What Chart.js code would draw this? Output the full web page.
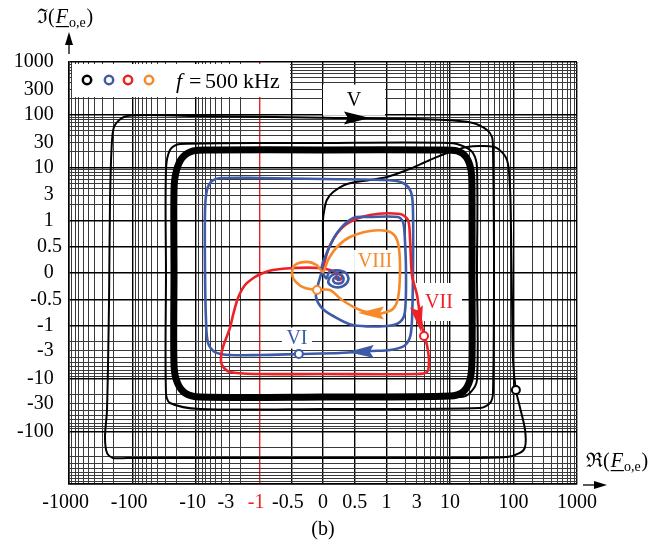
<!DOCTYPE html>
<html>
<head>
<meta charset="utf-8">
<script src="https://cdn.jsdelivr.net/npm/chart.js@4.4.1/dist/chart.umd.min.js"></script>
<style>
  html, body { margin: 0; padding: 0; background: #fff; }
</style>
</head>
<body>
<canvas id="c" width="669" height="544"></canvas>
<script>
// tick labels and grid positions (real values)
const xTickLabels = [-1000, -100, -10, -3, -1, -0.5, 0, 0.5, 1, 3, 10, 100, 1000];
const yTickLabels = [1000, 300, 100, 30, 10, 3, 1, 0.5, 0, -0.5, -1, -3, -10, -30, -100];
const gridValues = [
  -1000, -900, -800, -700, -600, -500, -400, -300, -200,
  -100, -90, -80, -70, -60, -50, -40, -30, -20,
  -10, -9, -8, -7, -6, -5, -4, -3, -2,
  -1, -0.5, 0, 0.5, 1,
  2, 3, 4, 5, 6, 7, 8, 9, 10,
  20, 30, 40, 50, 60, 70, 80, 90, 100,
  200, 300, 400, 500, 600, 700, 800, 900, 1000
];
const majorGrid = [-1000, -100, -10, -1, -0.5, 0, 0.5, 1, 10, 100, 1000];

// trajectory V (black)
const blackX = [0, 0, 0, 0.02, 0.06, 0.16, 0.38, 0.74, 1.02, 2.1, 4.84, 8.97, 18.5, 33.1, 55, 79, 88, 91.4, 94.7, 98.2,
  109, 126, 152, 152, 126, 79, 10, 0, -8.65, -122, -203, -252, -271, -252, -234, -226, -210, -189, -122, -11.1,
  0, 6.96, 23, 38.3, 45.9, 47.5, 49.3, 47.5, 42.7, 29.7, 0, -8.65, -25.7, -29.7, -29.7, -29.7, -25.7, -17.9, 0, 10,
  17.2, 23, 26.6, 26.6, 26.6, 20.6, 14.4, 0];
const blackY = [0.03, 0.63, 1.01, 1.56, 2.42, 3.43, 4.87, 5.79, 6.61, 8.97, 13.9, 18.8, 24.5, 25.6, 23.4, 13.9, 4.27, 0.8, -0.5, -4.46,
  -16.5, -34.7, -94.7, -199, -258, -308, -321, -321, -321, -321, -321, -258, -128, -39.5, -0.5, 2.42, 33.2, 63.9, 95, 95,
  88, 80, 69.8, 51.4, 37.8, 24.5, 0.44, -18.8, -29.1, -36.3, -37.8, -37.8, -29.1, -18.8, 0, 8.97, 21.5, 27.9, 29.1, 29.1,
  24.5, 18.8, 10.2, 0, -10.7, -18.8, -22.4, -22.6];
// limit cycle bundle (black, thick)
const cycleX = [-22.2, -22.2, -20.6, -16.6, -11.1, -6.03, 0, 6.96, 12.9, 17.9, 21.4, 22.2, 22.2, 22.2, 20.6, 16, 10, 0, -8.65, -14.9, -19.9, -22.2, -22.2];
const cycleY = [0, 3.74, 8.22, 15.1, 20.6, 21.5, 21.5, 21.5, 20.6, 15.8, 8.97, 3.74, 0, -4.46, -10.7, -18, -21.5, -22.4, -22.4, -18.8, -11.6, -5.55, 0];

// trajectory VI (blue)
const blueOuterX = [-0.38, -0.99, -2.92, -5.02, -6.47, -6.96, -7.21, -7.21, -6.71, -5.6, -3.9, -0.99, 0, 1.02, 1.82, 2.43, 2.61, 2.61, 2.52, 2.35, 1.89, 1.14, 0.77, 0.27, -0.38];
const blueOuterY = [-3.43, -3.59, -3.59, -3.15, -2.12, -0.89, 0, 1.56, 3.74, 5.55, 6.32, 6.32, 6.05, 5.79, 5.09, 3.43, 1.56, 0, -0.89, -1.63, -2.42, -2.88, -3.01, -3.28, -3.43];
const blueInnerX = [-0.02, -0.08, -0.11, -0.02, 0.16, 0.47, 1.02, 1.63, 1.95, 2.03, 1.95, 1.82, 1.52, 0.74, 0.47, 0.22, 0.06, -0.02,
  0.05, 0.1, 0.22, 0.36, 0.4, 0.33, 0.2, 0.09, 0.1, 0.16, 0.25, 0.32, 0.31, 0.22, 0.16, 0.18, 0.24, 0.26, 0.22];
const blueInnerY = [0.02, -0.23, -0.455, -0.66, -0.815, -0.986, -1.01, -0.929, -0.739, -0.04, 0.63, 0.967, 1.15, 1.15, 1.1, 0.76, 0.38, 0.1,
  -0.1, 0.02, 0.05, 0, -0.12, -0.24, -0.27, -0.2, -0.1, -0.03, -0.02, -0.08, -0.17, -0.2, -0.15, -0.09, -0.08, -0.12, -0.14];

// trajectory VII (red)
const redX = [0, 0.11, 0.35, 0.74, 1.63, 2.18, 2.35, 2.52, 3.02, 3.37, 3.9, 4.34, 4.67, 4.34, 3.02, -0.05, -0.99, -2.92, -3.9, -4.04,
  -3.76, -2.92, -2.61, -2.18, -1.69, -1.18, -0.945, -0.787, -0.472, -0.047, 0.11, 0.22, 0.3, 0.27, 0.2, 0.22];
const redY = [0.095, 0.53, 0.91, 1.26, 1.31, 1.01, 0.63, -0.04, -0.417, -0.796, -1.56, -2.32, -4.87, -7.53, -8.22, -8.22, -8.22, -7.53, -5.55, -3.91,
  -2.53, -1.1, -0.796, -0.474, -0.227, -0.076, 0, 0.057, 0.095, 0.095, 0.057, 0, -0.06, -0.13, -0.1, -0.04];

// trajectory VIII (orange)
const orangeX = [-0.094, -0.283, -0.425, -0.488, -0.441, -0.25, -0.1, 0, 0.079, 0.22, 0.425, 0.74, 1.02, 1.36, 1.57, 1.63, 1.52, 1.26, 0.945, 0.85, 0.583, 0.299, 0.11, -0.094];
const orangeY = [-0.322, -0.284, -0.171, -0.019, 0.15, 0.21, 0.15, 0.019, 0.246, 0.493, 0.682, 0.796, 0.796, 0.701, 0.474, 0, -0.474, -0.682, -0.758, -0.777, -0.701, -0.512, -0.322, -0.322];

// start markers: V, VII, VI, VIII
const markerX = [109, 3.9, -0.38, -0.094];
const markerY = [-16.5, -1.56, -3.43, -0.322];

// direction arrows (tip position), V, VIII, VI, VII
const arrowX = [0.74, 0.55, 0.39, 3.49];
const arrowY = [86.8, -0.758, -3.15, -1.31];

const BLUE = '#3d5ba8', RED = '#ec2227', ORANGE = '#f7892a', BLACK = '#000';
const FONT = "'Liberation Serif', 'DejaVu Serif', serif";

function symT(v) {
  const a = Math.abs(v);
  return a <= 1 ? v : Math.sign(v) * (1 + Math.log10(a));
}

// linear below 1, log per decade above
class SymScale extends Chart.LinearScale {
  parse(raw, index) {
    const v = super.parse(raw, index);
    return v === null ? null : symT(v);
  }
  buildTicks() {
    return gridValues.map(v => ({ value: symT(v), real: v }));
  }
}
SymScale.id = 'symlin';
SymScale.defaults = {};
Chart.register(SymScale);

const pts = (xs, ys) => xs.map((x, i) => ({ x, y: ys[i] }));

function curve(xs, ys, color, width, order) {
  return {
    data: pts(xs, ys), showLine: true, borderColor: color, borderWidth: width,
    pointRadius: 0, tension: 0.3, fill: false, order, borderJoinStyle: 'round'
  };
}

function gridColor(ctx, isX) {
  const r = ctx.tick && ctx.tick.real;
  if (isX && r === -1) return RED;
  return majorGrid.includes(r) ? '#000' : '#3a3a3a';
}

function tickLabel(list, isX) {
  return (v, i, ticks) => {
    const r = ticks[i].real;
    if (!list.includes(r)) return '';
    if (isX) return r < 0 ? String(r) + '\u2004' : String(r);
    return Number.isInteger(r) ? String(r) + '\u2004\u200A' : String(r);
  };
}

const labels = [
  { text: 'V', x: 0.488, y: 190, color: BLACK, w: 62, h: 31 },
  { text: 'VIII', x: 0.82, y: 0.23, color: ORANGE, w: 42, h: 22 },
  { text: 'VII', x: 6.71, y: -0.55, color: RED, w: 46, h: 38 },
  { text: 'VI', x: -0.41, y: -1.71, color: BLUE, w: 30, h: 21 }
];
const arrowStyle = [
  { color: BLACK, angle: 0 }, { color: ORANGE, angle: 180 },
  { color: BLUE, angle: 179 }, { color: RED, angle: 80 }
];
const legendColors = [BLACK, BLUE, RED, ORANGE];

function drawTitle(ctx, sym, x, base) {
  ctx.fillStyle = '#000';
  ctx.textAlign = 'left';
  ctx.textBaseline = 'alphabetic';
  ctx.font = '20px ' + FONT;
  ctx.fillText(sym + '(', x, base);
  let cx = x + ctx.measureText(sym + '(').width + 1;
  ctx.font = 'italic 20px ' + FONT;
  ctx.fillText('F', cx, base);
  const fw = ctx.measureText('F').width;
  ctx.fillRect(cx, base + 3, fw + 1, 1.2);
  cx += fw + 1;
  ctx.font = '14px ' + FONT;
  ctx.fillText('o,e', cx, base + 4);
  cx += ctx.measureText('o,e').width + 1;
  ctx.font = '20px ' + FONT;
  ctx.fillText(')', cx, base);
}

const annot = {
  id: 'annot',
  beforeDatasetsDraw(chart) {
    const { ctx, scales: { x, y } } = chart;
    ctx.save();
    ctx.fillStyle = '#fff';
    ctx.fillRect(72, 64, 218, 33);
    labels.forEach(l => {
      const px = x.getPixelForValue(symT(l.x)), py = y.getPixelForValue(symT(l.y));
      ctx.fillRect(px - l.w / 2, py - l.h / 2, l.w, l.h);
    });
    ctx.restore();
  },
  afterDatasetsDraw(chart) {
    const { ctx, scales: { x, y } } = chart;
    ctx.save();
    // arrows
    arrowX.forEach((ax, i) => {
      const px = x.getPixelForValue(symT(ax)), py = y.getPixelForValue(symT(arrowY[i]));
      const a = arrowStyle[i].angle * Math.PI / 180;
      ctx.save();
      ctx.translate(px, py);
      ctx.rotate(a);
      ctx.fillStyle = arrowStyle[i].color;
      ctx.beginPath();
      ctx.moveTo(0, 0);
      ctx.lineTo(-26, -6.5);
      ctx.lineTo(-22, 0);
      ctx.lineTo(-26, 6.5);
      ctx.closePath();
      ctx.fill();
      ctx.restore();
    });
    // trajectory names
    ctx.font = '20px ' + FONT;
    ctx.textAlign = 'center';
    ctx.textBaseline = 'middle';
    labels.forEach(l => {
      ctx.fillStyle = l.color;
      ctx.fillText(l.text, x.getPixelForValue(symT(l.x)), y.getPixelForValue(symT(l.y)) + 1);
    });
    // legend
    legendColors.forEach((c, i) => {
      ctx.beginPath();
      ctx.arc([87, 109, 128, 149][i], 80, 4.2, 0, Math.PI * 2);
      ctx.fillStyle = '#fff';
      ctx.fill();
      ctx.lineWidth = 2.5;
      ctx.strokeStyle = c;
      ctx.stroke();
    });
    ctx.fillStyle = '#000';
    ctx.textAlign = 'left';
    ctx.textBaseline = 'alphabetic';
    ctx.font = 'italic 22px ' + FONT;
    ctx.fillText('f', 176, 88);
    ctx.font = '22px ' + FONT;
    ctx.fillText('=', 189, 88);
    ctx.fillText('500', 205, 88);
    ctx.fillText('kHz', 243, 88);
    ctx.restore();
  },
  afterDraw(chart) {
    const { ctx } = chart;
    ctx.save();
    drawTitle(ctx, '\u2111', 37, 23);
    drawTitle(ctx, '\u211C', 586, 467);
    ctx.fillStyle = '#000';
    ctx.strokeStyle = '#000';
    ctx.lineWidth = 1.3;
    // up arrow
    ctx.beginPath(); ctx.moveTo(69, 54); ctx.lineTo(69, 40); ctx.stroke();
    ctx.beginPath(); ctx.moveTo(69, 32); ctx.lineTo(65, 45); ctx.lineTo(73, 45); ctx.closePath(); ctx.fill();
    // right arrow
    ctx.beginPath(); ctx.moveTo(583, 485); ctx.lineTo(598, 485); ctx.stroke();
    ctx.beginPath(); ctx.moveTo(607, 485); ctx.lineTo(594, 481); ctx.lineTo(594, 489); ctx.closePath(); ctx.fill();
    ctx.font = '20px ' + FONT;
    ctx.textAlign = 'center';
    ctx.textBaseline = 'middle';
    ctx.fillText('(b)', 323, 530);
    ctx.restore();
  }
};

new Chart(document.getElementById('c'), {
  type: 'scatter',
  data: {
    datasets: [
      {
        data: pts(markerX, markerY), pointRadius: 4, pointBorderWidth: 2,
        pointBackgroundColor: '#fff', pointBorderColor: [BLACK, RED, BLUE, ORANGE], order: 0
      },
      curve(orangeX, orangeY, ORANGE, 2.6, 1),
      curve(blueInnerX, blueInnerY, BLUE, 2.6, 2),
      curve(redX, redY, RED, 2.6, 3),
      curve(blueOuterX, blueOuterY, BLUE, 2.6, 4),
      curve(cycleX, cycleY, BLACK, 7, 5),
      curve(blackX, blackY, BLACK, 2, 6)
    ]
  },
  options: {
    responsive: false,
    animation: false,
    devicePixelRatio: 1,
    layout: { padding: { left: 0, right: 92, top: 62, bottom: 0 } },
    plugins: { legend: { display: false }, tooltip: { enabled: false } },
    scales: {
      x: {
        type: 'symlin', min: -1000, max: 1000,
        afterFit: s => { s.height = 60; },
        border: { display: true, color: '#000', width: 1.5 },
        grid: {
          drawTicks: false,
          color: ctx => gridColor(ctx, true),
          lineWidth: ctx => majorGrid.includes(ctx.tick && ctx.tick.real) ? 1.4 : 1
        },
        ticks: {
          autoSkip: false, maxRotation: 0, minRotation: 0, padding: 7,
          font: { family: FONT, size: 20 },
          color: ctx => (ctx.tick && ctx.tick.real === -1) ? RED : '#000',
          callback: tickLabel(xTickLabels, true)
        }
      },
      y: {
        type: 'symlin', min: -1000, max: 1000, position: 'left',
        afterFit: s => { s.width = 69; },
        border: { display: true, color: '#000', width: 1.5 },
        grid: {
          drawTicks: false,
          color: ctx => gridColor(ctx, false),
          lineWidth: ctx => majorGrid.includes(ctx.tick && ctx.tick.real) ? 1.4 : 1
        },
        ticks: {
          autoSkip: false, padding: 7,
          font: { family: FONT, size: 20 },
          color: '#000',
          callback: tickLabel(yTickLabels, false)
        }
      }
    }
  },
  plugins: [annot]
});
</script>
</body>
</html>
